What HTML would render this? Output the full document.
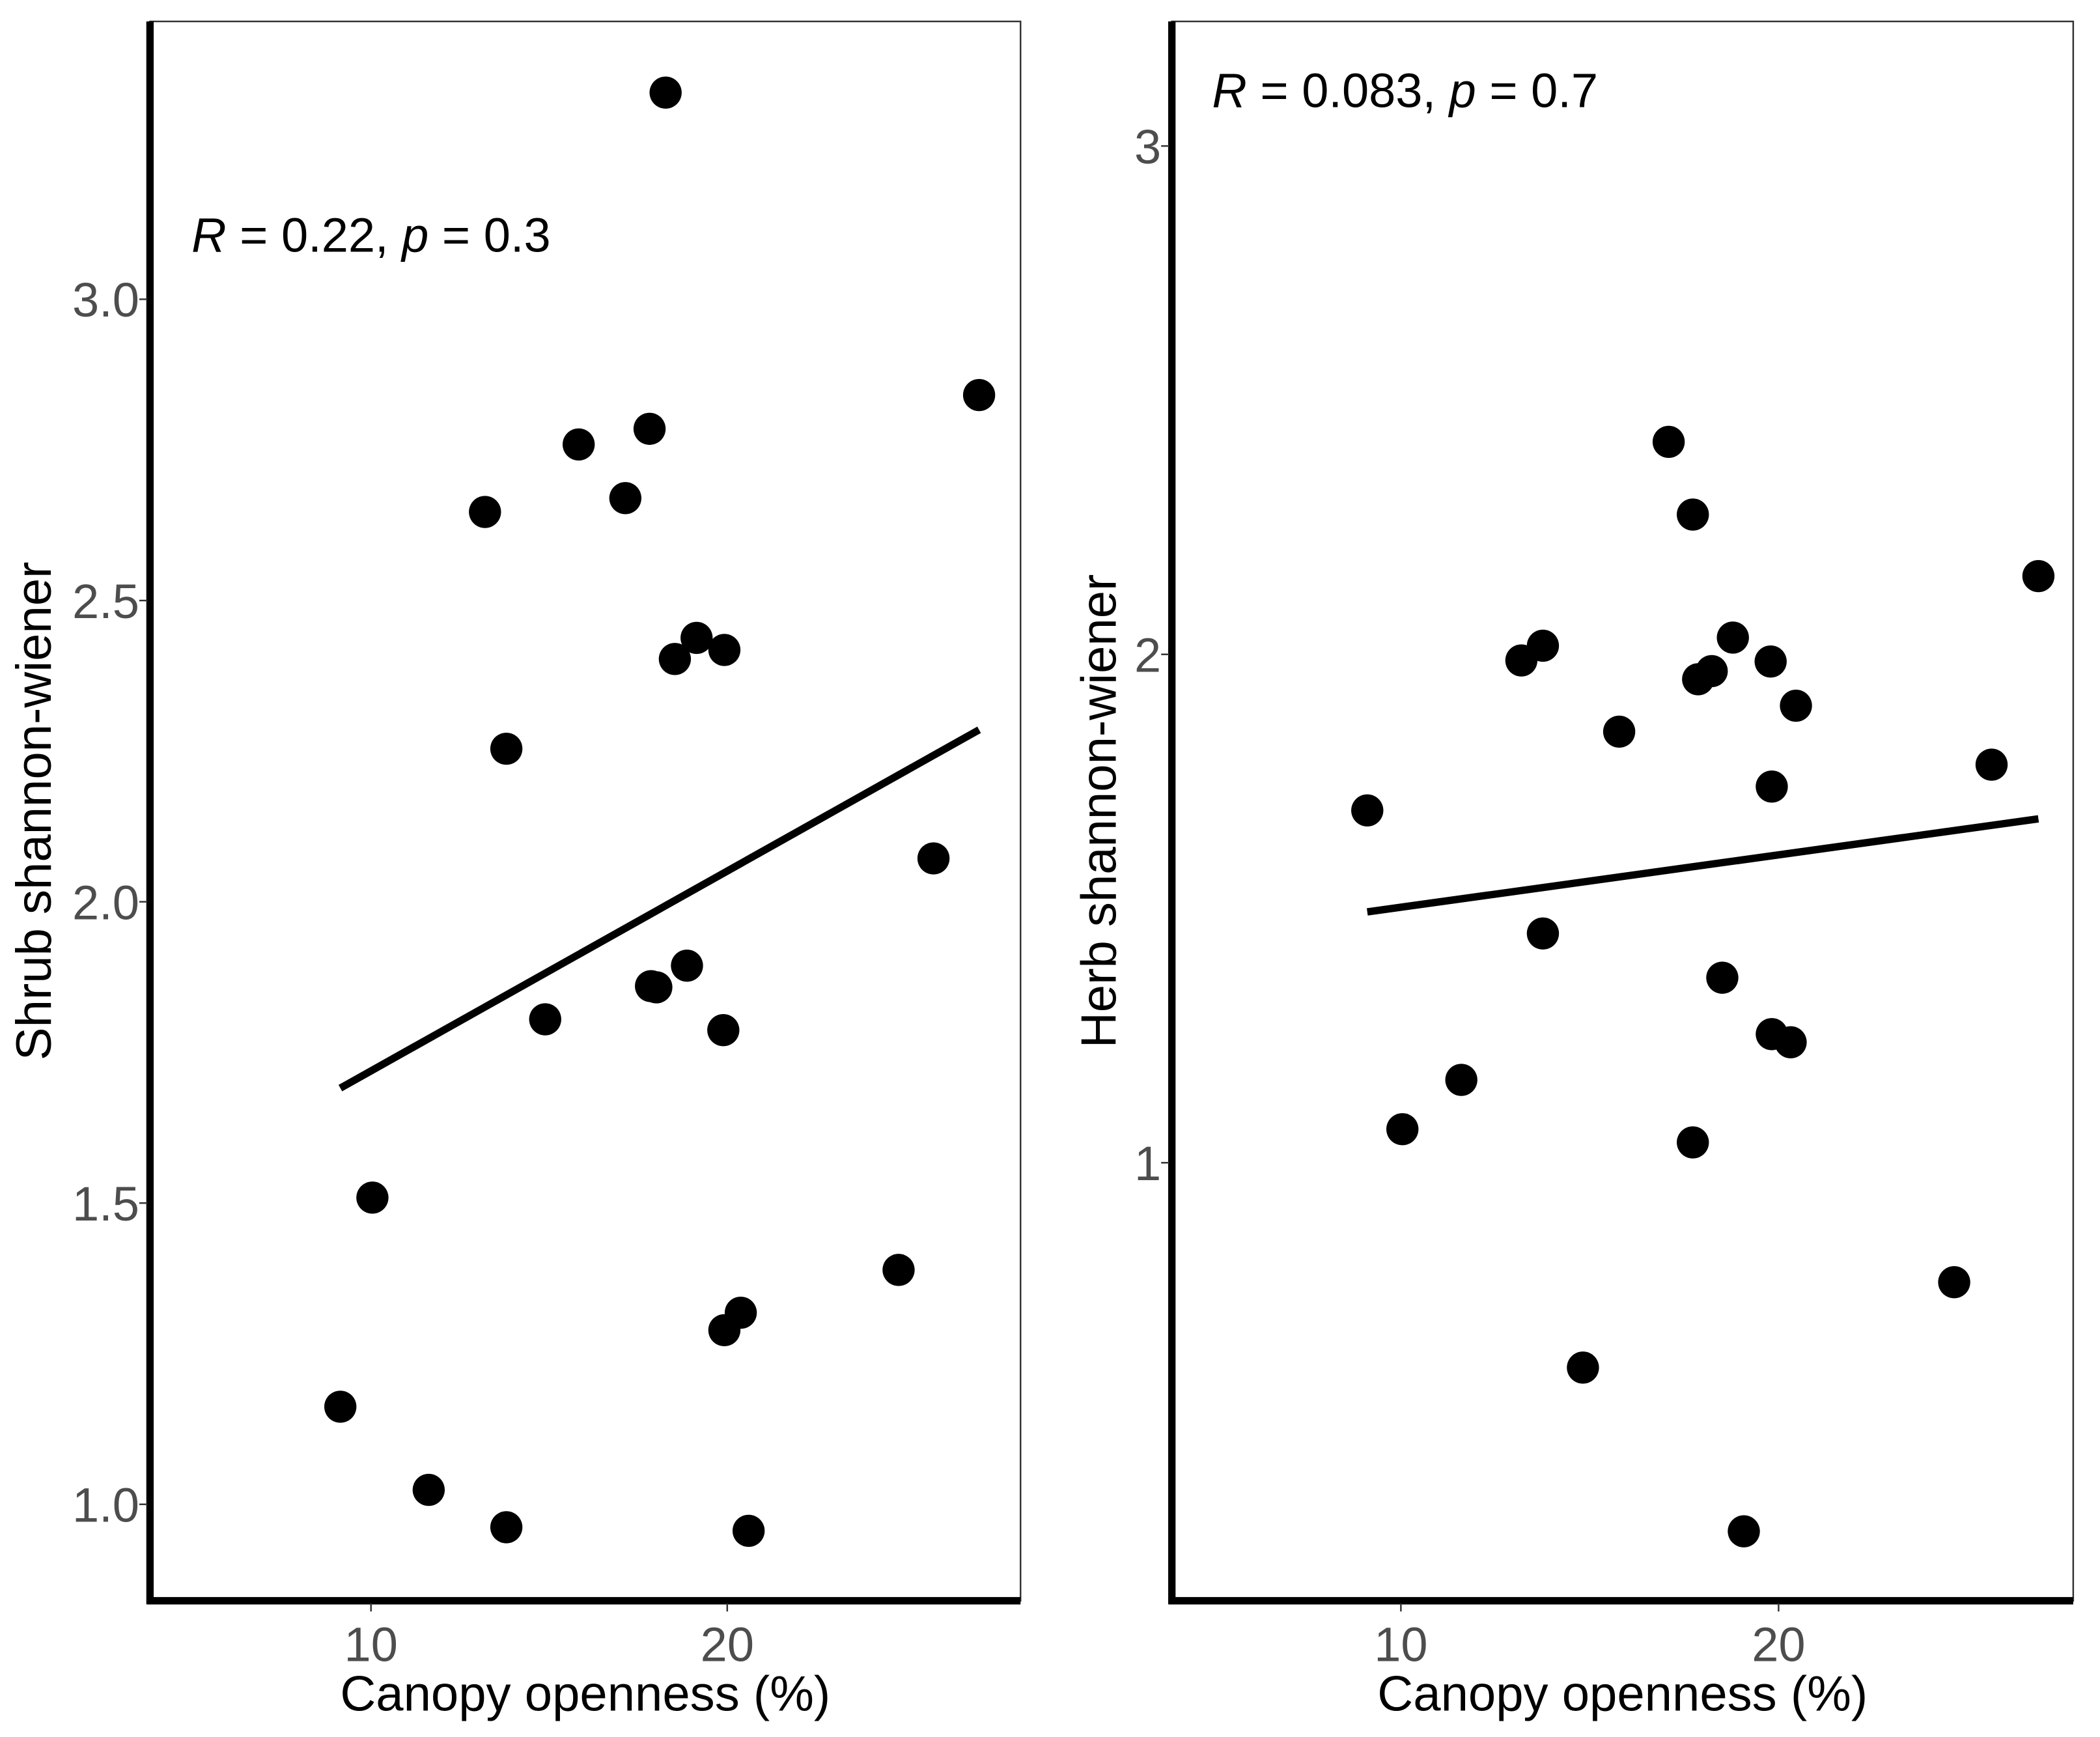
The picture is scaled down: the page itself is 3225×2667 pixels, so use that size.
<!DOCTYPE html>
<html><head><meta charset="utf-8"><style>
html,body{margin:0;padding:0;background:#fff;}
svg{display:block;}
text{font-family:"Liberation Sans",sans-serif;}
</style></head><body>
<svg id="chart" width="3225" height="2667" viewBox="0 0 1568 1296.7" xmlns="http://www.w3.org/2000/svg">
<rect width="1568" height="1297" fill="#fff"/>
<g id="p1"></g>
<g id="p2"></g>
</svg>
<script>
const shrubX=[9.14,10.04,11.62,13.80,13.80,13.20,14.89,15.83,17.14,17.82,17.86,18.01,18.53,18.87,19.14,19.92,19.89,19.92,20.38,20.60,18.27,24.81,25.79,27.07];
const shrubY=[1.162,1.509,1.024,0.962,2.254,2.647,1.805,2.759,2.670,2.785,1.860,1.858,2.403,1.894,2.438,2.418,1.787,1.289,1.318,0.956,3.343,1.389,2.072,2.841];
const herbX=[9.11,10.04,11.60,13.19,13.76,13.76,14.82,15.78,17.09,17.73,17.73,17.87,18.23,18.51,18.79,19.08,19.79,19.82,19.82,20.32,20.46,24.65,25.64,26.88];
const herbY=[1.693,1.066,1.163,1.988,2.017,1.451,0.597,1.848,2.418,2.275,1.040,1.951,1.967,1.364,2.033,0.275,1.986,1.740,1.253,1.237,1.899,0.765,1.783,2.154];
const xTicks=[10,20];
const shrubYTicks=[1.0,1.5,2.0,2.5,3.0];
const shrubYTickLabels=["1.0","1.5","2.0","2.5","3.0"];
const herbYTicks=[1,2,3];
const herbYTickLabels=["1","2","3"];
const NS="http://www.w3.org/2000/svg";
function mk(parent,tag,attrs,txt){const e=document.createElementNS(NS,tag);for(const k in attrs)e.setAttribute(k,attrs[k]);if(txt!==undefined)e.textContent=txt;parent.appendChild(e);return e;}
function panel(g,cfg){
  const {L,R,T,B,x0px,xk,y0px,yv0,yk,xs,ys,yt,ytl,ylab,ann,annX,annY}=cfg;
  const sx=v=>x0px+(v-10)*xk, sy=v=>y0px-(v-yv0)*yk;
  const border=mk(g,'rect',{x:L,y:T,width:R-L,height:B-T,fill:'none',stroke:'#333',"stroke-width":1.2});
  
  
  const ya=mk(g,'line',{x1:L,y1:T,x2:L,y2:B+2.5,stroke:'#000',"stroke-width":5.5});
  
  
  const xa=mk(g,'line',{x1:L-2.5,y1:B,x2:R,y2:B,stroke:'#000',"stroke-width":5.5});
  
  
  xTicks.forEach(t=>{
    const tk=mk(g,'line',{x1:sx(t),y1:B+2,x2:sx(t),y2:B+8,stroke:'#333',"stroke-width":1.2});
    
    
    const tl=mk(g,'text',{x:sx(t),y:B+45,"font-size":36,fill:'#4d4d4d',"text-anchor":'middle'},String(t));
    
    
  });
  yt.forEach((t,i)=>{
    const tk=mk(g,'line',{x1:L-8,y1:sy(t),x2:L-2,y2:sy(t),stroke:'#333',"stroke-width":1.2});
    
    
    const tl=mk(g,'text',{x:L-8,y:sy(t)+13,"font-size":36,fill:'#4d4d4d',"text-anchor":'end'},ytl[i]);
    
    
  });
  const xt=mk(g,'text',{x:(L+R)/2,y:1277,"font-size":37,fill:'#000',"text-anchor":'middle'},'Canopy openness (%)');
  
  
  const yc=(T+B)/2;
  const ytt=mk(g,'text',{x:cfg.ylabX,y:yc,"font-size":37,fill:'#000',"text-anchor":'middle',transform:`rotate(-90 ${cfg.ylabX} ${yc})`},ylab);
  
  
  const an=mk(g,'text',{x:annX,y:annY,"font-size":36,fill:'#000'});
  
  
  mk(an,'tspan',{"font-style":'italic'},'R');
  mk(an,'tspan',{},' = '+ann[0]+', ');
  mk(an,'tspan',{"font-style":'italic'},'p');
  mk(an,'tspan',{},' = '+ann[1]);
  const n=xs.length;let mx=0,my=0;xs.forEach((v,i)=>{mx+=v;my+=ys[i];});mx/=n;my/=n;
  let sxy=0,sxx=0;xs.forEach((v,i)=>{sxy+=(v-mx)*(ys[i]-my);sxx+=(v-mx)*(v-mx);});
  const b=sxy/sxx,a=my-b*mx;const xmin=Math.min(...xs),xmax=Math.max(...xs);
  const rl=mk(g,'line',{x1:sx(xmin),y1:sy(a+b*xmin),x2:sx(xmax),y2:sy(a+b*xmax),stroke:'#000',"stroke-width":5.5});
  
  
  xs.forEach((v,i)=>{
    const c=mk(g,'circle',{cx:sx(v),cy:sy(ys[i]),r:12,fill:'#000'});
    
    
  });
}
panel(document.getElementById('p1'),{L:112,R:762,T:16,B:1195,x0px:277,xk:26.6,y0px:1123,yv0:1.0,yk:449.8,xs:shrubX,ys:shrubY,yt:shrubYTicks,ytl:shrubYTickLabels,ylab:'Shrub shannon-wiener',ylabX:38,ann:['0.22','0.3'],annX:143,annY:188});
panel(document.getElementById('p2'),{L:875,R:1548,T:16,B:1195,x0px:1046,xk:28.2,y0px:868,yv0:1,yk:379.5,xs:herbX,ys:herbY,yt:herbYTicks,ytl:herbYTickLabels,ylab:'Herb shannon-wiener',ylabX:833,ann:['0.083','0.7'],annX:905,annY:80});
</script>
</body></html>
